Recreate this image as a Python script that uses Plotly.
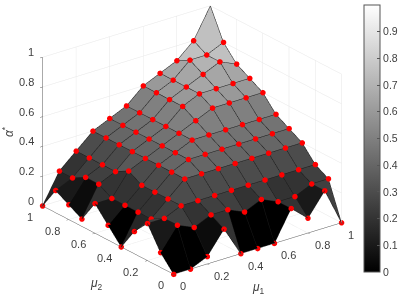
import plotly.graph_objects as go

mu1 = [0, 0.1, 0.2, 0.3, 0.4, 0.5, 0.6, 0.7, 0.8, 0.9, 1]
mu2 = [0, 0.1, 0.2, 0.3, 0.4, 0.5, 0.6, 0.7, 0.8, 0.9, 1]
# alpha[row for mu2][column for mu1]
alpha = [
    [0, 0, .05, .2, 0, 0, 0, .2, .1, .25, 0],
    [.1, .25, .2, .25, .25, .2, .25, .2, .2, .25, .25],
    [.25, .25, .3, .3, .3, .3, .3, .3, .3, .3, .3],
    [.15, .2, .3, .4, .4, .4, .4, .4, .4, .4, .4],
    [0, .2, .3, .4, .45, .45, .45, .45, .45, .45, .45],
    [.1, .2, .3, .4, .45, .5, .5, .5, .5, .5, .5],
    [.2, .2, .35, .4, .45, .5, .55, .6, .6, .6, .6],
    [.05, .25, .3, .4, .45, .5, .6, .65, .65, .65, .65],
    [.1, .25, .3, .4, .45, .5, .6, .65, .7, .75, .7],
    [.15, .2, .3, .4, .45, .5, .6, .65, .75, .75, .8],
    [0, .2, .3, .4, .45, .5, .6, .65, .7, .8, 1],
]
ticks = [0, 0.2, 0.4, 0.6, 0.8, 1]
cbar_ticks = [0, 0.1, 0.2, 0.3, 0.4, 0.5, 0.6, 0.7, 0.8, 0.9, 1]

EYE = (-0.558, -0.727, 0.40)
ZOOM = 2
SCALE_X = 1.533
SCALE_Y = 1.561
Z_ASPECT = 1.175

n = len(mu1)
m = len(mu2)
xs, ys, zs = [], [], []
for r in range(m):
    for c in range(n):
        xs.append(mu1[c]); ys.append(mu2[r]); zs.append(alpha[r][c])

ti, tj, tk, cell = [], [], [], []
for r in range(m - 1):
    for c in range(n - 1):
        a = r * n + c
        b = a + 1
        d = a + n
        e = d + 1
        ti += [a, a]; tj += [b, e]; tk += [e, d]
        cell += [alpha[r][c], alpha[r][c]]


def toward_viewer(x, y, z, eps):
    """Nudge along the view ray so the overlay is not cut by the surface (screen position unchanged).
    Points on the near edges stay put: nothing covers them and the nudge would leave the axis range."""
    if x == 0 or y == 0:
        return (x, y, z)
    return (x + EYE[0] * eps, y + EYE[1] * eps, z + EYE[2] * eps * SCALE_X / Z_ASPECT)


lx, ly, lz = [], [], []
for r in range(m):
    for c in range(n):
        p = toward_viewer(mu1[c], mu2[r], alpha[r][c], 0.004)
        lx.append(p[0]); ly.append(p[1]); lz.append(p[2])
    lx.append(None); ly.append(None); lz.append(None)
for c in range(n):
    for r in range(m):
        p = toward_viewer(mu1[c], mu2[r], alpha[r][c], 0.004)
        lx.append(p[0]); ly.append(p[1]); lz.append(p[2])
    lx.append(None); ly.append(None); lz.append(None)

mx, my, mz = [], [], []
for x, y, z in zip(xs, ys, zs):
    p = toward_viewer(x, y, z, 0.03)
    mx.append(p[0]); my.append(p[1]); mz.append(p[2])

FONT = "Liberation Sans"
TXT = "#404040"

fig = go.Figure()
fig.add_trace(go.Mesh3d(
    x=xs, y=ys, z=zs, i=ti, j=tj, k=tk,
    intensity=cell, intensitymode="cell",
    colorscale=[[0, "#000000"], [1, "#ffffff"]], cmin=0, cmax=1,
    flatshading=True,
    lighting=dict(ambient=1, diffuse=0, specular=0, roughness=1, fresnel=0),
    colorbar=dict(
        x=364 / 399, xanchor="left", xpad=0, y=1 - 5 / 294, yanchor="top", ypad=0,
        lenmode="pixels", len=267, thicknessmode="pixels", thickness=16,
        outlinecolor="#555555", outlinewidth=1, tickvals=cbar_ticks,
        ticktext=[f"{v:g}" for v in cbar_ticks],
        ticks="inside", ticklen=3, tickcolor="#555555",
        tickfont=dict(family=FONT, size=10.5, color=TXT),
    ),
    hoverinfo="skip",
))
fig.add_trace(go.Scatter3d(x=lx, y=ly, z=lz, mode="lines",
                           line=dict(color="#1a1a1a", width=1), hoverinfo="skip"))
fig.add_trace(go.Scatter3d(x=mx, y=my, z=mz, mode="markers",
                           marker=dict(color="#ff0000", size=3.2, line=dict(width=0)),
                           hoverinfo="skip"))


def axis():
    return dict(
        range=[0, 1], tickvals=ticks, showticklabels=False,
        showbackground=False, gridcolor="#e6e6e6", gridwidth=1,
        zeroline=False, showline=True, linecolor="#555555", linewidth=1,
        ticks="outside", ticklen=3, tickcolor="#555555",
        showspikes=False, title=dict(text=""),
    )


def label(x, y, z, value, anchor, dx, dy):
    return dict(x=x, y=y, z=z, text=f"{value:g}",
                showarrow=False, xanchor=anchor, yanchor="middle", xshift=dx, yshift=dy,
                font=dict(family=FONT, size=11, color=TXT))


tick_labels = []
for v in ticks:
    tick_labels.append(label(v, 0, 0, v, "left", 5, -12))
    tick_labels.append(label(0, v, 0, v, "right", -7, -11))
    tick_labels.append(label(0, 1, v, v, "right", -6, 5))

titles = [
    dict(text="<i>μ</i><sub>1</sub>", x=258 / 399, y=1 - 288 / 294),
    dict(text="<i>μ</i><sub>2</sub>", x=96 / 399, y=1 - 284 / 294),
    dict(text="<i>α</i><sup>*</sup>", x=8 / 399, y=1 - 132 / 294, textangle=-90),
]
for t in titles:
    t.update(xref="paper", yref="paper", showarrow=False, xanchor="center", yanchor="middle",
             font=dict(family=FONT, size=12, color=TXT))

fig.update_layout(
    width=399, height=294,
    margin=dict(l=0, r=0, t=0, b=0, autoexpand=False),
    paper_bgcolor="white",
    showlegend=False,
    annotations=titles,
    scene=dict(
        domain=dict(x=[0, 383.6 / 399], y=[16 / 294, 292 / 294]),
        xaxis=axis(), yaxis=axis(), zaxis=axis(),
        annotations=tick_labels,
        aspectmode="manual", aspectratio=dict(x=SCALE_X, y=SCALE_Y, z=Z_ASPECT),
        camera=dict(
            projection=dict(type="orthographic"),
            eye=dict(x=EYE[0] * ZOOM, y=EYE[1] * ZOOM, z=EYE[2] * ZOOM),
            up=dict(x=0, y=0, z=1), center=dict(x=0, y=0, z=0),
        ),
    ),
)
fig.write_html("out.html", post_script="document.body.style.margin='0';",
               config=dict(displayModeBar=False))
